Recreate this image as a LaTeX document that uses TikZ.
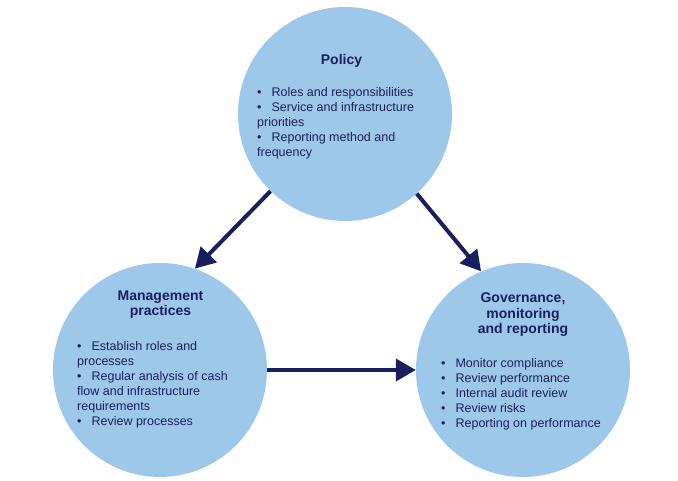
\documentclass[tikz,border=0pt]{standalone}
\usepackage{fontspec}
\setmainfont{Liberation Sans}
\usetikzlibrary{arrows.meta}
\definecolor{circfill}{RGB}{158,200,234}
\definecolor{navy}{RGB}{27,30,92}
\newcommand\bul{\textbullet\hspace{10pt}}
\begin{document}
\begin{tikzpicture}[x=1pt,y=-1pt,
 bubble/.style={circle, fill=circfill, minimum size=214pt, inner sep=0pt},
 flow/.style={draw=navy, line width=4pt, -{Triangle[length=20pt,width=22pt]}},
 title/.style={font=\bfseries\fontsize{14}{15.5}\selectfont, text=navy, align=center, inner sep=0pt, anchor=base},
 items/.style={font=\fontsize{12.5}{15}\selectfont, text=navy, align=left, inner sep=0pt, anchor=base west},
]
\useasboundingbox (0,0) rectangle (678,481);
\node[bubble] (policy) at (345,114) {};
\node[bubble] (mgmt) at (160,370) {};
\node[bubble] (gov) at (523,370) {};

\node[title] (policyT) at (341.5,65) {Policy};
\node[items] (policyL) at (257,157) {\bul Roles and responsibilities\\
\bul Service and infrastructure\\
priorities\\
\bul Reporting method and\\
frequency};

\node[title] (mgmtT) at (160.5,316) {Management\\practices};
\node[items] (mgmtL) at (77,425) {\bul Establish roles and\\
processes\\
\bul Regular analysis of cash\\
flow and infrastructure\\
requirements\\
\bul Review processes};

\node[title] (govT) at (523,334) {Governance,\\monitoring\\and reporting};
\node[items] (govL) at (441,427) {\bul Monitor compliance\\
\bul Review performance\\
\bul Internal audit review\\
\bul Review risks\\
\bul Reporting on performance};

\draw[flow] (policy.226.5) -- (mgmt.71);
\draw[flow] (policy.312) -- (gov.113);
\draw[flow] (mgmt.east) -- (gov.west);
\end{tikzpicture}
\end{document}
